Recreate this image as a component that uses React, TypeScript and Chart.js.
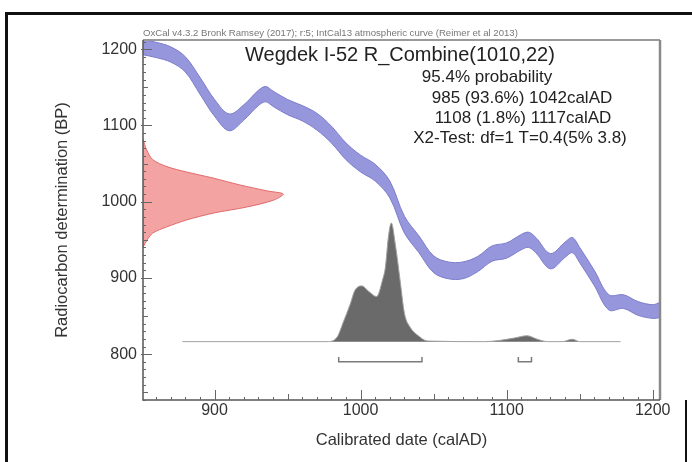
import React, { useEffect, useRef } from 'react';
import { Chart, registerables } from 'chart.js';

Chart.register(...registerables);

// ---------- data ----------
// IntCal13 calibration curve (calAD, BP, 1-sigma)
const curveYears = [850, 860, 870, 880, 890, 900, 910, 920, 930, 935, 940, 950, 960, 970, 980, 990, 1000, 1010, 1020, 1030, 1040, 1050, 1060, 1070, 1080, 1090, 1100, 1110, 1115, 1120, 1130, 1140, 1145, 1150, 1160, 1170, 1180, 1190, 1200, 1205];
const curveBP = [1203, 1199, 1193, 1180, 1152, 1123, 1104, 1117, 1136, 1141, 1135, 1124, 1116, 1105, 1088, 1066, 1050, 1038, 1016, 970, 944, 918, 910, 910, 918, 932, 936, 947, 950, 943, 922, 937, 943, 930, 900, 868, 869, 860, 856, 858];
const curveErr = [10, 10, 10, 10, 11, 11, 11, 10, 10, 10, 10, 10, 10, 11, 11, 11, 11, 11, 11, 11, 11, 11, 11, 11, 10, 10, 10, 10, 10, 10, 10, 10, 10, 10, 10, 10, 9, 9, 9, 10];

// Radiocarbon determination 1010 +/- 22 BP (relative density)
const measBP = [1082, 1068, 1055, 1046, 1039, 1031, 1022, 1014, 1010, 1002, 993, 985, 976, 967, 959, 950, 940];
const measDensity = [0, 0.026, 0.07, 0.17, 0.31, 0.5, 0.69, 0.89, 1.0, 0.93, 0.74, 0.5, 0.31, 0.17, 0.07, 0.03, 0];

// Calibrated date distribution (relative density)
const calYears = [878, 977, 984, 988, 993, 996, 1001, 1005, 1011, 1015, 1017, 1019, 1021, 1024, 1027, 1030, 1034, 1039, 1046, 1085, 1095, 1105, 1114, 1121, 1128, 1138, 1145, 1150, 1178];
const calDensity = [0, 0, 0.04, 0.16, 0.32, 0.43, 0.47, 0.43, 0.38, 0.52, 0.63, 0.88, 1.0, 0.8, 0.52, 0.24, 0.12, 0.055, 0.005, 0, 0.01, 0.03, 0.05, 0.02, 0, 0, 0.02, 0, 0];

// 95.4% ranges
const rangeStarts = [985, 1108];
const rangeEnds = [1042, 1117];

const xTickLabels = [900, 1000, 1100, 1200];
const yTickLabels = [800, 900, 1000, 1100, 1200];

const headerText = 'OxCal v4.3.2 Bronk Ramsey (2017); r:5; IntCal13 atmospheric curve (Reimer et al 2013)';
const titleText = 'Wegdek I-52 R_Combine(1010,22)';
const infoLines = ['95.4% probability', '985 (93.6%) 1042calAD', '1108 (1.8%) 1117calAD', 'X2-Test: df=1 T=0.4(5% 3.8)'];
const xTitle = 'Calibrated date (calAD)';
const yTitle = 'Radiocarbon determination (BP)';

// ---------- scale / styling constants ----------
const X_MIN = 851;
const X_MAX = 1205;
const Y_MIN = 740;
const Y_MAX = 1212;
const MEAS_SPAN = 96;
const CAL_BASE = 816.5;
const CAL_SPAN = 155.5;
const RANGE_BP = 790;
const RANGE_TICK = 6.5;
const FONT = '"Liberation Sans", Arial, sans-serif';

export default function App() {
  const ref = useRef<HTMLCanvasElement | null>(null);

  useEffect(() => {
    const canvas = ref.current;
    if (!canvas) return;

    const upper = curveYears.map((x, i) => ({ x, y: curveBP[i] + curveErr[i] }));
    const lower = curveYears.map((x, i) => ({ x, y: curveBP[i] - curveErr[i] }));
    const meas = measBP.map((y, i) => ({ x: X_MIN + measDensity[i] * MEAS_SPAN, y }));
    const cal = calYears.map((x, i) => ({ x, y: CAL_BASE + calDensity[i] * CAL_SPAN }));

    const rangeSets = rangeStarts.map((s, i) => ({
      data: [
        { x: s, y: RANGE_BP + RANGE_TICK },
        { x: s, y: RANGE_BP },
        { x: rangeEnds[i], y: RANGE_BP },
        { x: rangeEnds[i], y: RANGE_BP + RANGE_TICK },
      ],
      showLine: true,
      borderColor: '#7a7a7a',
      borderWidth: 1.5,
      pointRadius: 0,
      tension: 0,
      fill: false,
    }));

    const framePlugin = {
      id: 'frame',
      beforeDraw(chart: any) {
        const { ctx } = chart;
        ctx.save();
        ctx.fillStyle = '#fff';
        ctx.fillRect(0, 0, chart.width, chart.height);
        ctx.fillStyle = '#111';
        ctx.fillRect(5, 12, 3, chart.height - 12);
        ctx.fillRect(5, 12, chart.width - 5, 3);
        ctx.fillRect(685, 400, 2, chart.height - 400);
        ctx.restore();
      },
      afterDraw(chart: any) {
        const { ctx, chartArea: a, scales } = chart;
        const xs = scales.x;
        const ys = scales.y;
        ctx.save();
        // frame top/right
        ctx.strokeStyle = '#9a9a9a';
        ctx.lineWidth = 2;
        ctx.beginPath();
        ctx.moveTo(a.left, a.top);
        ctx.lineTo(a.right, a.top);
        ctx.stroke();
        ctx.strokeStyle = '#8a8a8a';
        ctx.lineWidth = 2.5;
        ctx.beginPath();
        ctx.moveTo(a.right, a.top);
        ctx.lineTo(a.right, a.bottom);
        ctx.stroke();
        // axes
        ctx.strokeStyle = '#555';
        ctx.lineWidth = 1.5;
        ctx.beginPath();
        ctx.moveTo(a.left, a.top);
        ctx.lineTo(a.left, a.bottom);
        ctx.lineTo(a.right, a.bottom);
        ctx.stroke();
        // ticks
        ctx.lineWidth = 1;
        ctx.strokeStyle = '#666';
        ctx.beginPath();
        for (let v = Math.ceil(Y_MIN / 10) * 10; v <= Y_MAX; v += 10) {
          const p = Math.round(ys.getPixelForValue(v)) + 0.5;
          const len = v % 100 === 0 ? 9 : v % 50 === 0 ? 5 : 3;
          ctx.moveTo(a.left - (v % 100 === 0 ? 2 : 0), p);
          ctx.lineTo(a.left + len, p);
        }
        for (let v = Math.ceil(X_MIN / 10) * 10; v <= X_MAX; v += 10) {
          const p = Math.round(xs.getPixelForValue(v)) + 0.5;
          const len = v % 100 === 0 ? 10 : v % 50 === 0 ? 6 : 3;
          ctx.moveTo(p, a.bottom);
          ctx.lineTo(p, a.bottom - len);
        }
        ctx.stroke();

        // texts
        ctx.textBaseline = 'middle';
        ctx.fillStyle = '#777';
        ctx.font = `9.6px ${FONT}`;
        ctx.textAlign = 'left';
        ctx.fillText(headerText, 143, 33);

        ctx.fillStyle = '#222';
        ctx.textAlign = 'center';
        ctx.font = `20px ${FONT}`;
        ctx.fillText(titleText, 400, 55);
        ctx.font = `17px ${FONT}`;
        const cx = [487, 522, 523, 520];
        const cy = [77, 98, 118, 138];
        infoLines.forEach((t, i) => ctx.fillText(t, cx[i], cy[i]));
        ctx.restore();
      },
    };

    const chart = new Chart(canvas, {
      type: 'scatter',
      data: {
        datasets: [
          ...rangeSets,
          {
            data: meas,
            showLine: true,
            borderColor: '#e06b6b',
            borderWidth: 1,
            backgroundColor: 'rgba(243,158,158,0.95)',
            pointRadius: 0,
            tension: 0.3,
            fill: 'shape',
          },
          {
            data: cal,
            showLine: true,
            borderColor: '#a0a0a0',
            borderWidth: 1,
            backgroundColor: '#6a6a6a',
            pointRadius: 0,
            cubicInterpolationMode: 'monotone',
            fill: { value: CAL_BASE },
          },
          {
            data: upper,
            showLine: true,
            borderColor: '#7d7dcc',
            borderWidth: 1,
            pointRadius: 0,
            tension: 0.35,
            fill: false,
          },
          {
            data: lower,
            showLine: true,
            borderColor: '#7d7dcc',
            borderWidth: 1,
            backgroundColor: 'rgb(150,150,220)',
            pointRadius: 0,
            tension: 0.35,
            fill: '-1',
          },
        ] as any,
      },
      options: {
        responsive: false,
        animation: false,
        events: [],
        layout: { padding: { left: 0, top: 40, right: 32, bottom: 0 } },
        plugins: { legend: { display: false }, tooltip: { enabled: false } },
        scales: {
          x: {
            type: 'linear',
            min: X_MIN,
            max: X_MAX,
            afterFit: (s: any) => { s.height = 62; },
            afterBuildTicks: (s: any) => { s.ticks = xTickLabels.map((v) => ({ value: v })); },
            grid: { display: false, drawTicks: false },
            border: { display: false },
            ticks: { padding: 1, color: '#333', font: { family: FONT, size: 16 }, maxRotation: 0, autoSkip: false, callback: (v: any) => String(v) },
            title: { display: true, text: xTitle, color: '#333', font: { family: FONT, size: 16.5 }, padding: { top: 0, bottom: 12 } },
          },
          y: {
            type: 'linear',
            min: Y_MIN,
            max: Y_MAX,
            afterFit: (s: any) => { s.width = 143; },
            afterBuildTicks: (s: any) => { s.ticks = yTickLabels.map((v) => ({ value: v })); },
            grid: { display: false, drawTicks: false },
            border: { display: false },
            ticks: { padding: 6, color: '#333', font: { family: FONT, size: 16 }, autoSkip: false, callback: (v: any) => String(v) },
            title: { display: true, text: yTitle, color: '#333', font: { family: FONT, size: 16.5 }, padding: { top: 53, bottom: 0 } },
          },
        },
      } as any,
      plugins: [framePlugin],
    });

    return () => chart.destroy();
  }, []);

  return (
    <div style={{ position: 'fixed', left: 0, top: 0, width: 692, height: 462, background: '#fff' }}>
      <canvas ref={ref} width={692} height={462} style={{ display: 'block' }} />
    </div>
  );
}
